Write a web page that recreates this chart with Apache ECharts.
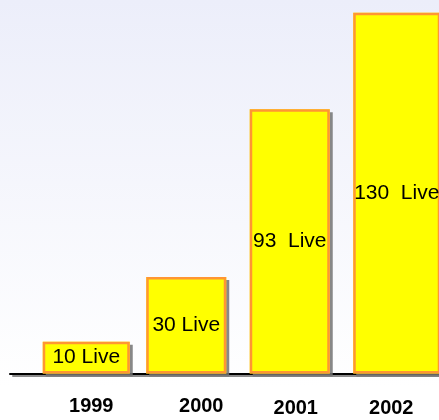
<!DOCTYPE html>
<html>
<head>
<meta charset="utf-8">
<script src="https://cdn.jsdelivr.net/npm/echarts@6/dist/echarts.min.js"></script>
<style>
  html, body { margin: 0; padding: 0; }
  #main { width: 439px; height: 420px; }
</style>
</head>
<body>
<div id="main"></div>
<script>
// 数据
var years = ['1999', '2000', '2001', '2002'];
var liveLabels = ['10 Live', '30 Live', '93  Live', '130  Live'];
var barHeights = [11.4, 34.8, 95.2, 130]; // 柱子高度
var wideBars = [0, 3]; // 第一根和最后一根柱子稍宽

var wideData = [];
var narrowData = [];
for (var i = 0; i < barHeights.length; i++) {
	if (wideBars.indexOf(i) >= 0) {
		wideData.push(barHeights[i]);
		narrowData.push('-');
	} else {
		wideData.push('-');
		narrowData.push(barHeights[i]);
	}
}

// 年份标签在原图里并不完全居中，逐个微调
var labelPads = [[0, 0, 0, 17], [0, 0, 0, 30], [2, 0, 0, 12], [2, 4, 0, 0]];
var yearItems = [];
for (var j = 0; j < years.length; j++) {
	yearItems.push({ value: years[j], textStyle: { padding: labelPads[j] } });
}

var myChart = echarts.init(document.getElementById('main'));

// 底层：只画阴影
var shadowStyle = {
	color: '#ffff00',
	borderWidth: 0,
	shadowColor: 'rgba(115,115,115,0.85)',
	shadowBlur: 0,
	shadowOffsetX: 3,
	shadowOffsetY: 3
};
// 上层：黄色填充 + 橙色边框
var topStyle = {
	color: '#ffff00',
	borderColor: '#ff9633',
	borderWidth: 2.5
};
var barLabel = {
	show: true,
	position: 'inside',
	color: '#000',
	fontSize: 21,
	fontFamily: '"Liberation Sans", Arial, sans-serif',
	formatter: function (p) {
		return liveLabels[p.dataIndex];
	}
};

function barSeries(data, width, style, label) {
	return {
		type: 'bar',
		xAxisIndex: 0,
		yAxisIndex: 0,
		barWidth: width,
		barGap: '-100%',
		data: data,
		itemStyle: style,
		label: label ? barLabel : { show: false },
		silent: true
	};
}

myChart.setOption({
	animation: false,
	backgroundColor: {
		type: 'linear', x: 0, y: 0, x2: 0, y2: 1,
		colorStops: [
			{ offset: 0, color: '#eceefa' },
			{ offset: 0.92, color: '#ffffff' },
			{ offset: 1, color: '#ffffff' }
		]
	},
	grid: [
		{ left: 31, width: 414, top: 12.7, bottom: 46.5, outerBoundsMode: 'none' },
		// 只用来画横轴的那条线
		{ left: 10, right: 0, top: 12.7, bottom: 46.5, outerBoundsMode: 'none' }
	],
	xAxis: [
		{
			type: 'category',
			gridIndex: 0,
			data: yearItems,
			axisLine: { show: false },
			axisTick: { show: false },
			axisLabel: {
				margin: 23,
				color: '#000',
				fontSize: 20,
				fontWeight: 'bold',
				fontFamily: '"Liberation Sans", Arial, sans-serif'
			}
		},
		{
			type: 'value',
			gridIndex: 1,
			min: 0,
			max: 1,
			axisLine: {
				show: true,
				lineStyle: {
					color: '#000',
					width: 2,
					shadowColor: 'rgba(110,110,110,0.8)',
					shadowBlur: 0,
					shadowOffsetX: 3,
					shadowOffsetY: 2
				}
			},
			axisTick: { show: false },
			axisLabel: { show: false },
			splitLine: { show: false }
		}
	],
	yAxis: [
		{ type: 'value', gridIndex: 0, min: 0, max: 130, show: false },
		{ type: 'value', gridIndex: 1, min: 0, max: 1, show: false }
	],
	series: [
		barSeries(wideData, 87, shadowStyle, false),
		barSeries(narrowData, 80, shadowStyle, false),
		barSeries(wideData, 87, topStyle, true),
		barSeries(narrowData, 80, topStyle, true)
	]
});
</script>
</body>
</html>
